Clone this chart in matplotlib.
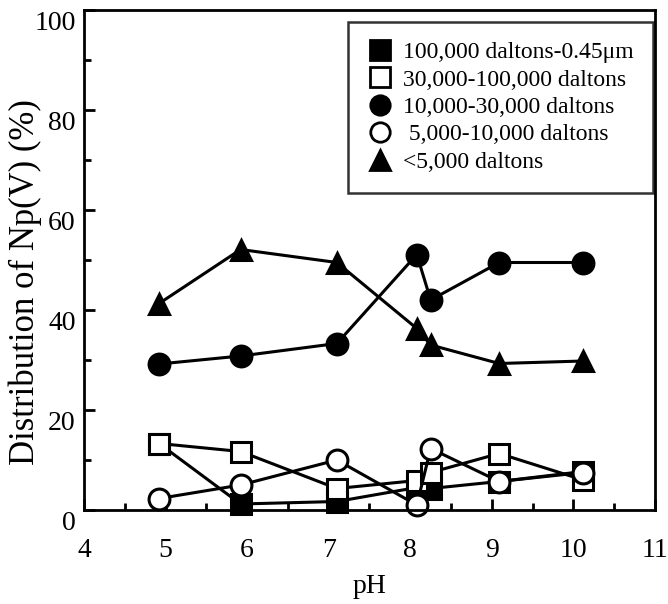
import matplotlib
matplotlib.use("Agg")
import matplotlib.pyplot as plt
from matplotlib.transforms import ScaledTranslation
from matplotlib.ticker import MultipleLocator
from matplotlib.lines import Line2D

plt.rcParams['font.family'] = ['Liberation Serif', 'DejaVu Serif']

pH = [4.92, 5.92, 7.10, 8.08, 8.25, 9.09, 10.12]
filled_sq = [13.3, 1.2, 1.7, 4.5, 4.3, 5.7, 7.7]      # 100,000 daltons-0.45um
open_sq = [13.3, 11.7, 4.3, 5.9, 7.5, 11.3, 6.0]      # 30,000-100,000 daltons
filled_ci = [29.2, 30.8, 33.3, 51.1, 42.0, 49.5, 49.5]  # 10,000-30,000 daltons
open_ci = [2.3, 5.0, 10.0, 1.0, 12.3, 5.7, 7.5]       # 5,000-10,000 daltons
tri = [41.3, 52.1, 49.5, 36.3, 33.0, 29.3, 29.8]      # <5,000 daltons

labels = ["100,000 daltons-0.45\u03bcm", "30,000-100,000 daltons",
          "10,000-30,000 daltons", " 5,000-10,000 daltons", "<5,000 daltons"]

fig = plt.figure(figsize=(6.68, 6.04), dpi=100)
ax = fig.add_axes([84/668, 1-510/604, (655-84)/668, 500/604])

ms = 15
lw = 2.2
mew = 2.2
common = dict(color='black', lw=lw, ms=ms, mew=mew, clip_on=False)
ax.plot(pH, filled_sq, marker='s', mfc='black', mec='black', **common)
ax.plot(pH, open_sq, marker='s', mfc='white', mec='black', **common)
ax.plot(pH, filled_ci, marker='o', mfc='black', mec='black', **common)
ax.plot(pH, open_ci, marker='o', mfc='white', mec='black', **common)
ax.plot(pH, tri, marker='^', mfc='black', mec='black', **common)

ax.set_xlim(4, 11)
ax.set_ylim(0, 100)
ax.xaxis.set_major_locator(MultipleLocator(1))
ax.xaxis.set_minor_locator(MultipleLocator(0.5))
ax.yaxis.set_major_locator(MultipleLocator(20))
ax.yaxis.set_minor_locator(MultipleLocator(10))
ax.tick_params(which='both', direction='in', top=False, right=False, width=2)
ax.tick_params(which='major', length=8, labelsize=20)
ax.tick_params(which='minor', length=5)
ax.tick_params(axis='x', pad=20)
ax.tick_params(axis='y', pad=6)
for s in ax.spines.values():
    s.set_linewidth(2)

for t in ax.get_yticklabels():
    t.set_transform(t.get_transform() + ScaledTranslation(0, -0.11, fig.dpi_scale_trans))

ax.set_xlabel("pH", fontsize=20, labelpad=8)
ax.set_ylabel("Distribution of Np(V) (%)", fontsize=25)
ax.yaxis.set_label_coords(-0.074, 0.455)

handles = [
    Line2D([], [], ls='none', marker='s', mfc='black', mec='black', ms=14, mew=2),
    Line2D([], [], ls='none', marker='s', mfc='white', mec='black', ms=14, mew=2),
    Line2D([], [], ls='none', marker='o', mfc='black', mec='black', ms=14, mew=2),
    Line2D([], [], ls='none', marker='o', mfc='white', mec='black', ms=14, mew=2),
    Line2D([], [], ls='none', marker='^', mfc='black', mec='black', ms=14, mew=2),
]
leg = ax.legend(handles, labels, loc='upper right', bbox_to_anchor=(0.997, 0.977),
                fontsize=17, frameon=True, fancybox=False, edgecolor='black',
                handlelength=1.0, handletextpad=0.45, labelspacing=0.25,
                borderpad=0.85, borderaxespad=0.0)
leg.get_frame().set_linewidth(1.8)

fig.savefig("out.png", dpi=100)
